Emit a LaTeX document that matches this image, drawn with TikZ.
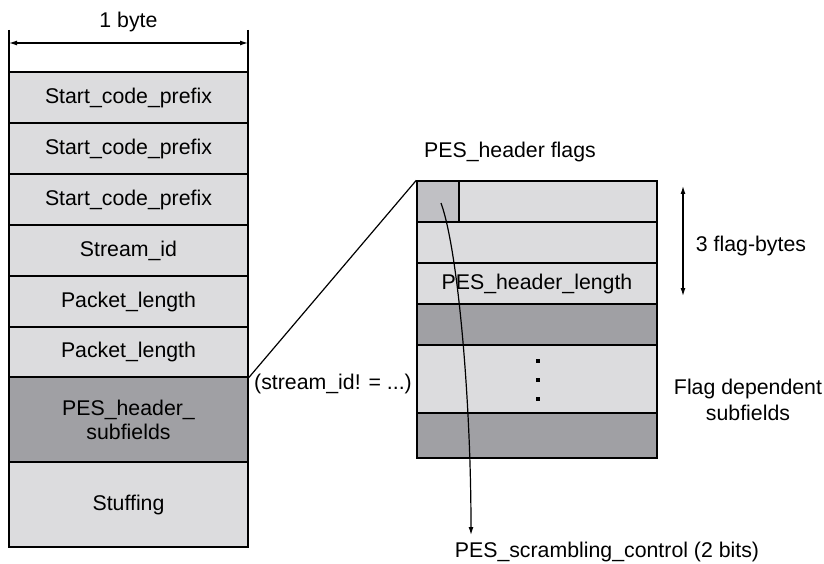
\documentclass[tikz,border=0pt]{standalone}
\usepackage{fontspec}
\setmainfont{Liberation Sans}
\usetikzlibrary{arrows.meta}
\definecolor{lightg}{HTML}{DCDCDE}
\definecolor{darkg}{HTML}{A0A0A4}
\definecolor{midg}{HTML}{C0C0C4}
\begin{document}
\begin{tikzpicture}[x=1pt,y=-1pt,
  every node/.style={font=\fontsize{21.3}{25}\selectfont, inner sep=0pt},
  lrow/.style={draw=black, line width=1.4pt, fill=lightg, minimum width=239pt, align=center},
  rrow/.style={draw=black, line width=1.4pt, fill=lightg, minimum width=240pt, align=center},
  dk/.style={fill=darkg},
  lbl/.style={align=center},
  tip/.style={-{Latex[length=8pt,width=5pt]}},
  dtip/.style={{Latex[length=8pt,width=5pt]}-{Latex[length=8pt,width=5pt]}},
  thin/.style={line width=1.2pt}
]
\useasboundingbox (0,0) rectangle (824,564);
% width marker
\coordinate (wl1) at (9,30); \coordinate (wl2) at (9,72);
\coordinate (wr1) at (248,30); \coordinate (wr2) at (248,72);
\draw[thin] (wl1) -- (wl2);
\draw[thin] (wr1) -- (wr2);
\coordinate (al) at (9,43); \coordinate (ar) at (248,43);
\draw[thin, dtip] (al) -- (ar);
\node[lbl] (byte) at (128.5,22) {1 byte};
% left column
\node[lrow, minimum height=51pt] (l1) at (128.5,97.5) {Start\_code\_prefix};
\node[lrow, minimum height=51pt] (l2) at (128.5,148.5) {Start\_code\_prefix};
\node[lrow, minimum height=51pt] (l3) at (128.5,199.5) {Start\_code\_prefix};
\node[lrow, minimum height=51pt] (l4) at (128.5,250.5) {Stream\_id};
\node[lrow, minimum height=51pt] (l5) at (128.5,301.5) {Packet\_length};
\node[lrow, minimum height=50pt] (l6) at (128.5,352) {Packet\_length};
\node[lrow, dk, minimum height=85pt] (l7) at (128.5,419.5) {PES\_header\_\\[-1pt]subfields};
\node[lrow, minimum height=85pt] (l8) at (128.5,504.5) {Stuffing};
% right column
\node[rrow, minimum height=41pt] (r1) at (537,201.5) {};
\node[draw=black, line width=1.4pt, fill=midg, minimum width=42pt, minimum height=41pt] (flag) at (438,201.5) {};
\node[rrow, minimum height=41pt] (r2) at (537,242.5) {};
\node[rrow, minimum height=41pt] (r3) at (537,283.5) {PES\_header\_length};
\node[rrow, dk, minimum height=41pt] (r4) at (537,324.5) {};
\node[rrow, minimum height=68pt] (r5) at (537,379) {};
\node[rrow, dk, minimum height=45pt] (r6) at (537,435.5) {};
% dots
\node[fill=black, minimum size=3.5pt] (d1) at (538,361) {};
\node[fill=black, minimum size=3.5pt] (d2) at (538,380) {};
\node[fill=black, minimum size=3.5pt] (d3) at (538,399) {};
% zoom line
\draw[thin] (l6.south east) -- (r1.north west);
% labels
\node[lbl] (flags) at (510,152) {PES\_header flags};
\node[lbl] (cond) at (333,384) {(stream\_id! = ...)};
\coordinate (fa1) at (683,186); \coordinate (fa2) at (683,296);
\draw[thin, dtip] (fa1) -- (fa2);
\node[lbl] (three) at (751,246) {3 flag-bytes};
\node[lbl] (dep) at (748,400) {Flag dependent\\[1pt]subfields};
\node[lbl] (scr) at (607,552) {PES\_scrambling\_control (2 bits)};
% curved arrow
\coordinate (cs) at (441,203);
\coordinate (ce) at (471,535);
\draw[thin, tip] (cs) .. controls (458,250) and (471,400) .. (ce);
\end{tikzpicture}
\end{document}
